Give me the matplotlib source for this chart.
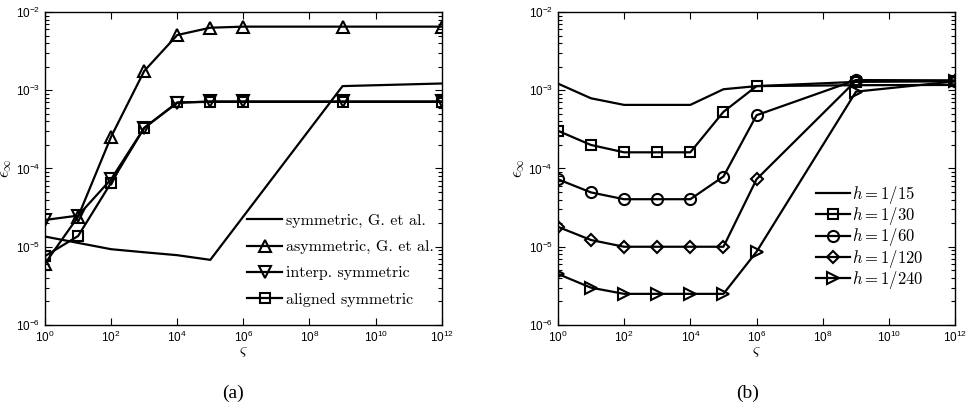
import numpy as np
import matplotlib.pyplot as plt
from matplotlib.font_manager import FontProperties
from matplotlib.ticker import LogLocator, NullLocator

plt.rcParams['font.family'] = ['Liberation Sans', 'DejaVu Sans']
plt.rcParams['axes.unicode_minus'] = False

# zeta values for every curve
zeta = [1e0, 1e1, 1e2, 1e3, 1e4, 1e5, 1e6, 1e9, 1e12]
zeta_sym = [1e0, 1e1, 1e2, 1e3, 1e4, 1e5, 1e9, 1e12]

# panel (a): error of the different schemes
sym_G = [1.35e-5, 1.12e-5, 9.3e-6, 8.5e-6, 7.8e-6, 6.8e-6, 1.13e-3, 1.22e-3]
asym_G = [6.1e-6, 2.42e-5, 2.55e-4, 1.76e-3, 5.08e-3, 6.3e-3, 6.5e-3, 6.5e-3, 6.5e-3]
interp_sym = [2.2e-5, 2.5e-5, 7.3e-5, 3.3e-4, 6.9e-4, 7.2e-4, 7.2e-4, 7.2e-4, 7.2e-4]
aligned_sym = [7.6e-6, 1.37e-5, 6.6e-5, 3.3e-4, 7.0e-4, 7.1e-4, 7.1e-4, 7.1e-4, 7.1e-4]

# panel (b): mesh refinement
h_labels = [r'$h = 1/15$', r'$h = 1/30$', r'$h = 1/60$', r'$h = 1/120$', r'$h = 1/240$']
h_markers = ['None', 's', 'o', 'D', '>']
h_err = [
    [1.22e-3, 7.9e-4, 6.5e-4, 6.5e-4, 6.5e-4, 1.03e-3, 1.13e-3, 1.16e-3, 1.17e-3],
    [3.04e-4, 2.0e-4, 1.61e-4, 1.61e-4, 1.61e-4, 5.3e-4, 1.13e-3, 1.28e-3, 1.3e-3],
    [7.3e-5, 4.95e-5, 4.05e-5, 4.05e-5, 4.05e-5, 7.9e-5, 4.8e-4, 1.35e-3, 1.33e-3],
    [1.8e-5, 1.22e-5, 1.0e-5, 1.0e-5, 1.0e-5, 1.0e-5, 7.3e-5, 1.33e-3, 1.33e-3],
    [4.5e-6, 3.0e-6, 2.5e-6, 2.5e-6, 2.5e-6, 2.5e-6, 8.65e-6, 9.6e-4, 1.3e-3],
]

lw = 1.6
mew = 1.5
msize = {'^': 9, 'v': 9, 's': 7, 'o': 8, 'D': 6.5, '>': 9, 'None': 0}


def style_axes(ax):
    ax.set_xscale('log')
    ax.set_yscale('log')
    ax.set_xlim(1e0, 1e12)
    ax.set_ylim(1e-6, 1e-2)
    ax.xaxis.set_major_locator(LogLocator(base=100.0, numticks=20))
    ax.xaxis.set_minor_locator(NullLocator())
    ax.yaxis.set_major_locator(LogLocator(base=10.0, numticks=10))
    ax.yaxis.set_minor_locator(LogLocator(base=10.0, subs=np.arange(2, 10), numticks=20))
    ax.tick_params(which='both', direction='in', top=True, right=True,
                   labelsize=8.5, width=0.8)
    ax.tick_params(which='major', length=5)
    ax.tick_params(which='minor', length=3)
    for s in ax.spines.values():
        s.set_linewidth(1.0)
    ax.set_xlabel(r'$\varsigma$', fontsize=12, labelpad=-1, math_fontfamily='cm')
    ax.set_ylabel(r'$\epsilon_\infty$', fontsize=12, labelpad=1, math_fontfamily='cm')


fig = plt.figure(figsize=(9.70, 4.07), dpi=100)
ax1 = fig.add_axes([0.0464, 0.2015, 0.409, 0.769])
ax2 = fig.add_axes([0.575, 0.2015, 0.410, 0.769])

ax1.plot(zeta_sym, sym_G, 'k-', lw=lw, label='symmetric, G. et al.')
for y, mk, lab in [(asym_G, '^', 'asymmetric, G. et al.'),
                   (interp_sym, 'v', 'interp. symmetric'),
                   (aligned_sym, 's', 'aligned symmetric')]:
    ax1.plot(zeta, y, 'k-', marker=mk, ms=msize[mk], mew=mew, mfc='none', lw=lw,
             label=lab)
style_axes(ax1)
leg_font_a = FontProperties(family='cmr10', size=11.5)
ax1.legend(loc='upper left', bbox_to_anchor=(0.51, 0.355), frameon=False,
           prop=leg_font_a, handlelength=2.2, handletextpad=0.2,
           labelspacing=0.75, borderpad=0, borderaxespad=0)

for lab, mk, err in zip(h_labels, h_markers, h_err):
    ax2.plot(zeta, err, 'k-', marker=mk, ms=msize[mk], mew=mew, mfc='none', lw=lw,
             label=lab)
style_axes(ax2)
leg_font_b = FontProperties(family='cmr10', size=12, math_fontfamily='cm')
ax2.legend(loc='upper left', bbox_to_anchor=(0.65, 0.45), frameon=False,
           prop=leg_font_b, handlelength=2.0, handletextpad=0.15,
           labelspacing=-0.05, borderpad=0, borderaxespad=0)

fig.text(0.240, 0.034, '(a)', ha='center', va='center', fontsize=14,
         family='Liberation Serif')
fig.text(0.771, 0.034, '(b)', ha='center', va='center', fontsize=14,
         family='Liberation Serif')

fig.savefig('out.png', dpi=100)
